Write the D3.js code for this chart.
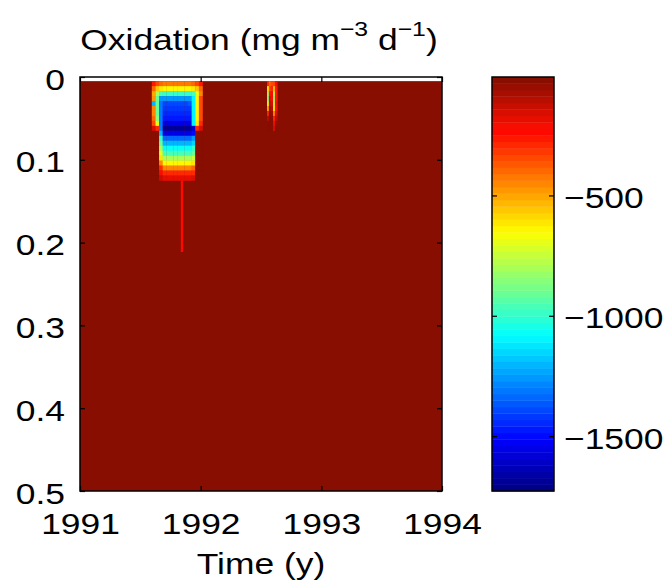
<!DOCTYPE html>
<meta charset="utf-8">
<script src="https://d3js.org/d3.v7.min.js"></script>
<style>
body { margin: 0; background: #fff; }
text { font-family: "Liberation Sans", Arial, Helvetica, sans-serif; fill: #000; }
</style>
<div id="my_dataviz"></div>
<script>
var width = 668, height = 585

// ---- data ----
var yearTicks = [1991, 1992, 1993, 1994]
var depthTicks = [0, 0.1, 0.2, 0.3, 0.4, 0.5]
var cbarTicks = [-500, -1000, -1500]
var cmin = -1728, cmax = -8
var background = -8
var dataTop = 0.005

// main pulse, autumn 1991
var timeEdges = [1991.595, 1991.625, 1991.655, 1991.685, 1991.715, 1991.745, 1991.775,
                 1991.805, 1991.835, 1991.865, 1991.895, 1991.925, 1991.955, 1991.985, 1992.015]
var depthEdges = [0.005, 0.011, 0.017, 0.023, 0.029, 0.035, 0.041, 0.047, 0.053, 0.059, 0.065,
                  0.071, 0.077, 0.083, 0.089, 0.095, 0.101, 0.107, 0.113, 0.119, 0.125]
var oxidation = [
  [-250,-350,-400,-420,-420,-420,-420,-420,-420,-420,-420,-400,-350,-250],
  [-400,-550,-620,-650,-650,-650,-650,-650,-650,-650,-650,-620,-550,-400],
  [-500,-800,-950,-1000,-1000,-1000,-1000,-1000,-1000,-1000,-1000,-950,-700,-450],
  [-480,-900,-1250,-1260,-1260,-1260,-1260,-1260,-1260,-1260,-1260,-1100,-650,-350],
  [-1200,-900,-1300,-1380,-1380,-1380,-1380,-1380,-1380,-1380,-1370,-1100,-650,-350],
  [-450,-900,-1300,-1430,-1430,-1430,-1430,-1430,-1430,-1430,-1430,-1100,-650,-350],
  [-450,-900,-1300,-1450,-1450,-1450,-1450,-1450,-1450,-1450,-1450,-1100,-650,-350],
  [-400,-850,-1300,-1480,-1480,-1480,-1480,-1480,-1480,-1480,-1480,-1100,-650,-350],
  [-350,-700,-1300,-1560,-1560,-1560,-1560,-1560,-1560,-1560,-1560,-1100,-600,-300],
  [-150,-300,-1300,-1700,-1700,-1700,-1700,-1700,-1700,-1700,-1700,-1600,-300,-150],
  [-8,-8,-1200,-1560,-1560,-1560,-1560,-1560,-1560,-1560,-1560,-1500,-8,-8],
  [-8,-8,-1000,-1330,-1330,-1330,-1330,-1330,-1330,-1330,-1330,-1250,-8,-8],
  [-8,-8,-900,-1200,-1200,-1200,-1200,-1200,-1200,-1200,-1200,-1150,-8,-8],
  [-8,-8,-800,-1080,-1080,-1080,-1080,-1080,-1080,-1080,-1080,-1000,-8,-8],
  [-8,-8,-700,-950,-950,-950,-950,-950,-950,-950,-950,-900,-8,-8],
  [-8,-8,-600,-800,-800,-800,-800,-800,-800,-800,-800,-750,-8,-8],
  [-8,-8,-450,-650,-650,-650,-650,-650,-650,-650,-650,-600,-8,-8],
  [-8,-8,-300,-450,-450,-450,-450,-450,-450,-450,-450,-400,-8,-8],
  [-8,-8,-200,-300,-300,-300,-300,-300,-300,-300,-300,-280,-8,-8],
  [-8,-8,-120,-180,-180,-180,-180,-180,-180,-180,-180,-160,-8,-8]
]

// thin streak below the main pulse
var spikeTimes = [1991.835, 1991.852]
var spikeDepths = [0.125, 0.211]
var spikeValues = [[-230]]

// small pulse, summer 1992
var pulse2Times = [1992.550, 1992.565, 1992.580, 1992.600, 1992.615, 1992.635]
var pulse2Depths = [0.005, 0.011, 0.017, 0.023, 0.029, 0.035, 0.041, 0.047, 0.053, 0.059, 0.065]
var pulse2Values = [
  [-300,-400,-350,-350,-200],
  [-600,-350,-300,-550,-250],
  [-800,-250,-200,-750,-250],
  [-850,-150,-200,-800,-250],
  [-700,-100,-150,-750,-200],
  [-500,-60,-100,-650,-200],
  [-300,-30,-50,-450,-150],
  [-100,-10,-30,-300,-100],
  [-20,-8,-8,-200,-50],
  [-8,-8,-8,-150,-8]
]

// ---- layout ----
var plot = {x0: 80, x1: 442, y0: 77, y1: 491}
var cbar = {x0: 492, x1: 554}
var sx = 1.18   // the original figure is stretched sideways

var svg = d3.select("#my_dataviz")
  .append("svg")
    .attr("width", width)
    .attr("height", height)

var x = d3.scaleLinear().domain([1991, 1994]).range([plot.x0, plot.x1])
var y = d3.scaleLinear().domain([0, 0.5]).range([plot.y0, plot.y1])

// MATLAB jet, 64 levels
function jet(t) {
  var i = Math.max(0, Math.min(63, Math.floor(t * 64)))
  var s = (i + 0.5) / 64
  var c = function(v) { return Math.round(255 * Math.max(0, Math.min(1, v))) }
  var gr = c(1.5 - Math.abs(4 * s - 2))
  if (s > 0.875) gr = Math.max(gr, 14)
  return "rgb(" + c(1.5 - Math.abs(4 * s - 3)) + "," + gr + "," + c(1.5 - Math.abs(4 * s - 1)) + ")"
}
var colorScale = function(v) { return jet((v - cmin) / (cmax - cmin)) }

var g = svg.append("g")

// background field
g.append("rect")
  .attr("x", x(1991)).attr("y", y(dataTop))
  .attr("width", x(1994) - x(1991)).attr("height", y(0.5) - y(dataTop))
  .attr("fill", colorScale(background))

function drawGrid(tE, dE, vals) {
  var cells = []
  vals.forEach(function(row, r) {
    row.forEach(function(v, c) {
      cells.push({t0: tE[c], t1: tE[c + 1], d0: dE[r], d1: dE[r + 1], v: v})
    })
  })
  g.append("g")
    .selectAll("rect")
    .data(cells)
    .enter().append("rect")
      .attr("x", function(d) { return x(d.t0) })
      .attr("y", function(d) { return y(d.d0) })
      .attr("width", function(d) { return x(d.t1) - x(d.t0) + 0.3 })
      .attr("height", function(d) { return y(d.d1) - y(d.d0) + 0.3 })
      .attr("fill", function(d) { return colorScale(d.v) })
}
drawGrid(timeEdges, depthEdges, oxidation)
drawGrid(spikeTimes, spikeDepths, spikeValues)
drawGrid(pulse2Times, pulse2Depths, pulse2Values)

// widen text horizontally around its own anchor
function stretch(sel) {
  sel.each(function() {
    var t = d3.select(this)
    var tx = +t.attr("x") || 0
    t.attr("x", tx / sx).attr("transform", "scale(" + sx + ",1)")
  })
}

function styleAxis(sel) {
  sel.select(".domain").remove()
  sel.selectAll(".tick line").attr("stroke", "#000").attr("stroke-width", 1.2)
  sel.selectAll("text").style("font-size", "30px").call(stretch)
}
var fmt = d3.format("~g")
svg.append("g").attr("transform", "translate(" + plot.x0 + ",0)")
  .call(d3.axisLeft(y).tickValues(depthTicks).tickFormat(fmt).tickSizeInner(-5).tickSizeOuter(0).tickPadding(15))
  .call(styleAxis)
  .selectAll("text").attr("dy", "0.4em")
svg.append("g").attr("transform", "translate(" + plot.x1 + ",0)")
  .call(d3.axisRight(y).tickValues(depthTicks).tickSizeInner(-5).tickSizeOuter(0).tickFormat(""))
  .call(styleAxis)
svg.append("g").attr("transform", "translate(0," + plot.y1 + ")")
  .call(d3.axisBottom(x).tickValues(yearTicks).tickFormat(d3.format("d")).tickSizeInner(-5).tickSizeOuter(0).tickPadding(22))
  .call(styleAxis)
svg.append("g").attr("transform", "translate(0," + plot.y0 + ")")
  .call(d3.axisTop(x).tickValues(yearTicks).tickSizeInner(-5).tickSizeOuter(0).tickFormat(""))
  .call(styleAxis)

svg.append("rect")
  .attr("x", plot.x0).attr("y", plot.y0)
  .attr("width", plot.x1 - plot.x0).attr("height", plot.y1 - plot.y0)
  .attr("fill", "none").attr("stroke", "#000").attr("stroke-width", 1.5)

// colorbar
var yc = d3.scaleLinear().domain([cmin, cmax]).range([plot.y1, plot.y0])
var step = (cmax - cmin) / 64
var levels = d3.range(64).map(function(i) { return cmin + step * i })
svg.append("g")
  .selectAll("rect")
  .data(levels)
  .enter().append("rect")
    .attr("x", cbar.x0)
    .attr("width", cbar.x1 - cbar.x0)
    .attr("y", function(d) { return yc(d + step) })
    .attr("height", function(d) { return yc(d) - yc(d + step) + 0.4 })
    .attr("fill", function(d) { return colorScale(d + step / 2) })

svg.append("g").attr("transform", "translate(" + cbar.x1 + ",0)")
  .call(d3.axisRight(yc).tickValues(cbarTicks).tickFormat(d3.format("d")).tickSizeInner(-5).tickSizeOuter(0).tickPadding(10))
  .call(styleAxis)
  .selectAll("text").attr("dy", "0.4em")
svg.append("g").attr("transform", "translate(" + cbar.x0 + ",0)")
  .call(d3.axisLeft(yc).tickValues(cbarTicks).tickSizeInner(-5).tickSizeOuter(0).tickFormat(""))
  .call(styleAxis)
svg.append("rect")
  .attr("x", cbar.x0).attr("y", plot.y0)
  .attr("width", cbar.x1 - cbar.x0).attr("height", plot.y1 - plot.y0)
  .attr("fill", "none").attr("stroke", "#000").attr("stroke-width", 1.5)

// labels
svg.append("text")
  .attr("x", (plot.x0 + plot.x1) / 2).attr("y", 574)
  .attr("text-anchor", "middle").style("font-size", "30px")
  .text("Time (y)")
  .call(stretch)

var title = svg.append("text")
  .attr("x", (plot.x0 + plot.x1) / 2 - 2).attr("y", 50)
  .attr("text-anchor", "middle").style("font-size", "30px")
title.append("tspan").text("Oxidation (mg m")
title.append("tspan").attr("dy", -14).style("font-size", "21px").text("\u22123")
title.append("tspan").attr("dy", 14).text(" d")
title.append("tspan").attr("dy", -14).style("font-size", "21px").text("\u22121")
title.append("tspan").attr("dy", 14).text(")")
title.call(stretch)
</script>
